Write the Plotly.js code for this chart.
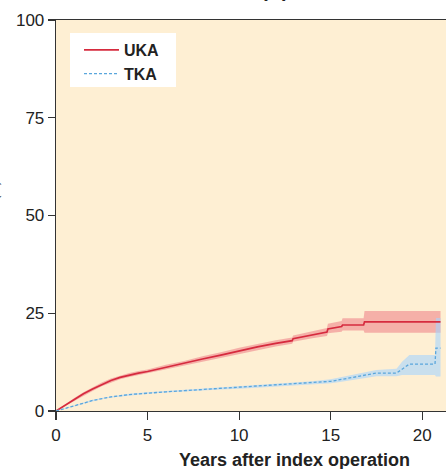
<!DOCTYPE html>
<html>
<head>
<meta charset="utf-8">
<script src="https://cdn.plot.ly/plotly-3.0.1.min.js"></script>
<style>
html,body{margin:0;padding:0;background:#fff;overflow:hidden;}
#chart{width:446px;height:469px;}
</style>
</head>
<body>
<div id="chart"></div>
<script>
// ---- data ----
var ukaYears = [0, 0.5, 1, 1.5, 2, 2.5, 3, 3.5, 4, 4.5, 5, 6, 7, 8, 9, 10, 11, 12, 12.9, 12.95, 14, 14.8, 14.85, 15.6, 15.65, 16.8, 16.85, 21];
var ukaValues = [0, 1.5, 3.0, 4.4, 5.6, 6.8, 7.8, 8.6, 9.2, 9.7, 10.1, 11.2, 12.2, 13.3, 14.3, 15.4, 16.4, 17.3, 18.0, 18.5, 19.5, 20.2, 21.0, 21.6, 22.0, 22.0, 22.8, 22.8];
var ukaLower = [0, 1.3, 2.7, 4.0, 5.1, 6.3, 7.3, 8.1, 8.7, 9.2, 9.6, 10.6, 11.6, 12.6, 13.6, 14.6, 15.6, 16.5, 17.2, 17.7, 18.6, 19.2, 19.9, 20.3, 20.6, 20.6, 20.0, 20.0];
var ukaUpper = [0, 1.7, 3.3, 4.8, 6.1, 7.3, 8.3, 9.1, 9.7, 10.2, 10.6, 11.8, 12.8, 14.0, 15.0, 16.2, 17.2, 18.1, 18.8, 19.3, 20.4, 21.2, 22.3, 23.0, 23.7, 23.7, 25.6, 25.6];

var tkaYears = [0, 0.5, 1, 1.5, 2, 2.5, 3, 4, 5, 6, 7, 8, 9, 10, 11, 12, 13, 14, 15, 15.5, 16, 16.5, 17.5, 18.6, 18.9, 19.3, 20.7, 20.75, 21];
var tkaValues = [0, 0.6, 1.3, 2.0, 2.7, 3.2, 3.6, 4.2, 4.6, 4.9, 5.2, 5.5, 5.8, 6.0, 6.3, 6.6, 6.9, 7.2, 7.6, 8.0, 8.4, 8.8, 9.7, 9.7, 10.7, 12.0, 12.0, 16.1, 16.1];
var tkaLower = [0, 0.5, 1.2, 1.85, 2.55, 3.05, 3.45, 4.0, 4.4, 4.7, 5.0, 5.25, 5.5, 5.7, 5.95, 6.2, 6.5, 6.8, 7.1, 7.4, 7.8, 8.1, 8.9, 8.9, 9.2, 9.2, 9.2, 8.8, 8.8];
var tkaUpper = [0, 0.7, 1.4, 2.15, 2.85, 3.35, 3.75, 4.4, 4.8, 5.1, 5.4, 5.75, 6.1, 6.3, 6.65, 7.0, 7.3, 7.6, 8.1, 8.6, 9.0, 9.5, 10.5, 10.8, 12.6, 14.3, 14.3, 23.8, 23.8];

var xTicks = [0, 5, 10, 15, 20];
var yTicks = [0, 25, 50, 75, 100];

var redLine = '#d62b3e';
var blueLine = '#5aa6dc';

var traces = [
  {x: ukaYears, y: ukaLower, mode: 'lines', line: {width: 0, color: 'rgba(0,0,0,0)'}, showlegend: false, hoverinfo: 'skip'},
  {x: ukaYears, y: ukaUpper, mode: 'lines', line: {width: 0, color: 'rgba(0,0,0,0)'}, fill: 'tonexty', fillcolor: 'rgba(230,60,90,0.35)', showlegend: false, hoverinfo: 'skip'},
  {x: tkaYears, y: tkaLower, mode: 'lines', line: {width: 0, color: 'rgba(0,0,0,0)'}, showlegend: false, hoverinfo: 'skip'},
  {x: tkaYears, y: tkaUpper, mode: 'lines', line: {width: 0, color: 'rgba(0,0,0,0)'}, fill: 'tonexty', fillcolor: 'rgba(165,212,255,0.6)', showlegend: false, hoverinfo: 'skip'},
  {x: ukaYears, y: ukaValues, mode: 'lines', name: 'UKA', line: {color: redLine, width: 1.7}},
  {x: tkaYears, y: tkaValues, mode: 'lines', name: 'TKA', line: {color: blueLine, width: 1.3, dash: '3px,2px'}}
];

var layout = {
  width: 446, height: 469,
  margin: {l: 56, r: 0, t: 20, b: 58},
  paper_bgcolor: '#ffffff',
  plot_bgcolor: '#feefd3',
  font: {family: 'Liberation Sans, Arial, sans-serif', color: '#222222', size: 17},
  showlegend: true,
  legend: {
    x: (79-56)/390, y: 0.967, xanchor: 'left', yanchor: 'top',
    bgcolor: 'rgba(0,0,0,0)', borderwidth: 0, itemwidth: 35,
    font: {size: 16, color: '#222222', family: 'Liberation Sans, Arial, sans-serif', weight: 'bold'},
    traceorder: 'normal'
  },
  shapes: [
    {type: 'rect', xref: 'paper', yref: 'paper', layer: 'below',
     x0: (70-56)/390, x1: (176-56)/390, y0: (411-87)/391, y1: (411-33)/391,
     fillcolor: '#ffffff', line: {width: 0}}
  ],
  xaxis: {
    range: [0, 21.3], tickvals: xTicks, ticktext: xTicks.map(String),
    showgrid: false, zeroline: false,
    showline: true, linecolor: '#333333', linewidth: 1.3, mirror: true,
    ticks: 'outside', ticklen: 8, tickwidth: 1.2, tickcolor: '#333333',
    tickfont: {size: 17, color: '#222222'}
  },
  yaxis: {
    range: [0, 100], tickvals: yTicks, ticktext: yTicks.map(String),
    showgrid: false, zeroline: false,
    showline: true, linecolor: '#333333', linewidth: 1.3,
    ticks: 'outside', ticklen: 7, tickwidth: 1.2, tickcolor: '#333333',
    tickfont: {size: 17, color: '#222222'}
  },
  annotations: [
    {text: '(A)', xref: 'paper', yref: 'paper', x: 0.5615, y: 1 + 17/391, xanchor: 'center', yanchor: 'bottom',
     showarrow: false, font: {size: 20, weight: 'bold', color: '#222222'}},
    {text: 'Years after index operation', xref: 'paper', yref: 'paper', x: (177-56)/390, y: -37/391,
     xanchor: 'left', yanchor: 'top', showarrow: false, font: {size: 18, weight: 'bold', color: '#222222'}},
    {text: 'Revision (%)', xref: 'paper', yref: 'paper', x: (-6-56)/390, y: (411-215)/391,
     xanchor: 'center', yanchor: 'middle', textangle: -90, showarrow: false, font: {size: 12, color: '#333333'}}
  ]
};

Plotly.newPlot('chart', traces, layout, {displayModeBar: false, staticPlot: true});
</script>
</body>
</html>
